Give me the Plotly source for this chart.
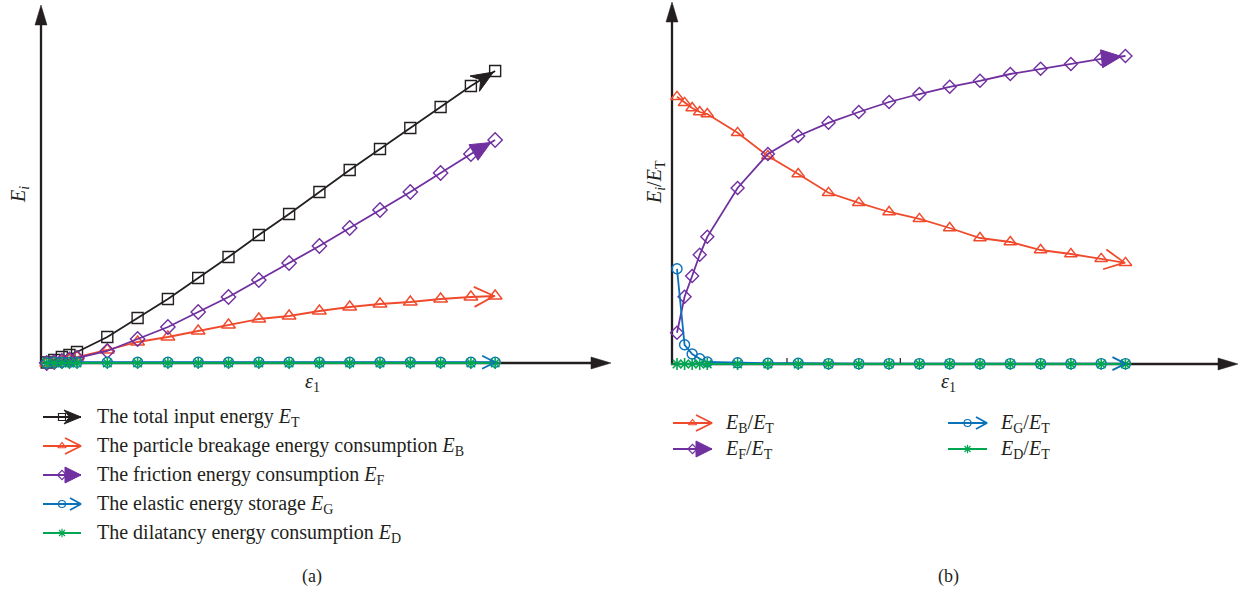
import math
import plotly.graph_objects as go

# ---------------- data ----------------
strain = [0, 0.25, 0.5, 0.75, 1, 2, 3, 4, 5, 6, 7, 8, 9, 10, 11, 12, 13, 14, 14.8]

# (a) energies (arbitrary units)
E_T = [0.05, 0.3, 0.6, 0.8, 1.1, 2.6, 4.5, 6.4, 8.5, 10.6, 12.8, 14.9, 17.1, 19.3, 21.4, 23.5, 25.6, 27.7, 29.2]
E_B = [0.0, 0.1, 0.25, 0.35, 0.6, 1.3, 2.1, 2.6, 3.2, 3.8, 4.4, 4.7, 5.2, 5.6, 5.9, 6.1, 6.4, 6.6, 6.7]
E_F = [0.0, 0.1, 0.2, 0.35, 0.5, 1.2, 2.4, 3.6, 5.1, 6.6, 8.3, 10.0, 11.7, 13.5, 15.3, 17.1, 19.0, 20.9, 22.3]
E_G = [0.02, 0.08, 0.08, 0.08, 0.08, 0.08, 0.08, 0.08, 0.08, 0.08, 0.08, 0.08, 0.08, 0.08, 0.08, 0.08, 0.08, 0.08, 0.08]
E_D = [0.0] * 19

# (b) energy ratios
R_B = [0.668, 0.653, 0.640, 0.630, 0.625, 0.578, 0.520, 0.475, 0.428, 0.403, 0.380, 0.363, 0.340, 0.315, 0.305, 0.285, 0.275, 0.263, 0.253]
R_F = [0.078, 0.168, 0.220, 0.273, 0.318, 0.440, 0.525, 0.570, 0.603, 0.630, 0.655, 0.675, 0.693, 0.708, 0.725, 0.738, 0.750, 0.763, 0.770]
R_G = [0.238, 0.048, 0.025, 0.013, 0.005, 0.003, 0.002, 0.002, 0.001, 0.001, 0.001, 0.001, 0.001, 0.001, 0.001, 0.001, 0.001, 0.001, 0.001]
R_D = [0.0] * 19

legend_a = [
    "The total input energy <i>E</i><sub>T</sub>",
    "The particle breakage energy consumption <i>E</i><sub>B</sub>",
    "The friction energy consumption <i>E</i><sub>F</sub>",
    "The elastic energy storage <i>E</i><sub>G</sub>",
    "The dilatancy energy consumption <i>E</i><sub>D</sub>",
]
legend_b = [
    "<i>E</i><sub>B</sub>/<i>E</i><sub>T</sub>",
    "<i>E</i><sub>F</sub>/<i>E</i><sub>T</sub>",
    "<i>E</i><sub>G</sub>/<i>E</i><sub>T</sub>",
    "<i>E</i><sub>D</sub>/<i>E</i><sub>T</sub>",
]

# ---------------- style / layout ----------------
W, H = 1240, 592
INK = "#231f20"
C_T = "#231f20"
C_B = "#f04a2c"
C_F = "#7030a0"
C_G = "#0b72b9"
C_D = "#00a651"
FONT = "Liberation Serif"

# axis lines in pixels (start, arrow tip)
LX = (41, 611)
LY = (363, 5)
RX = (672, 1238)
RY = (364, 2)

# data <-> pixel calibration
PX_PER_STRAIN = 30.3
L_ZERO = (46.7, 363.0)
R_ZERO = (677.0, 364.0)
L_PX_PER_UNIT = 10.0
R_PX_PER_UNIT = 400.0

# subplot domains (pixels), a bit larger than the drawn axes so arrowheads are not clipped
L_DOM_X = (28, 622)
L_DOM_Y = (378, 0)
R_DOM_X = (660, 1240)
R_DOM_Y = (378, 0)


def xr_from(dom, zero, s):
    return [(dom[0] - zero) / s, (dom[1] - zero) / s]


def yr_from(dom, zero, s):
    return [(zero - dom[0]) / s, (zero - dom[1]) / s]


l_xr = xr_from(L_DOM_X, L_ZERO[0], PX_PER_STRAIN)
l_yr = yr_from(L_DOM_Y, L_ZERO[1], L_PX_PER_UNIT)
r_xr = xr_from(R_DOM_X, R_ZERO[0], PX_PER_STRAIN)
r_yr = yr_from(R_DOM_Y, R_ZERO[1], R_PX_PER_UNIT)


def mapper(xr, yr, xpx, ypx):
    sx = (xpx[1] - xpx[0]) / (xr[1] - xr[0])
    sy = (ypx[1] - ypx[0]) / (yr[1] - yr[0])

    def to_px(x, y):
        return xpx[0] + (x - xr[0]) * sx, ypx[0] + (y - yr[0]) * sy

    def to_data(px, py):
        return xr[0] + (px - xpx[0]) / sx, yr[0] + (py - ypx[0]) / sy

    return to_px, to_data


def head_pts(kind, tip, u, L, hw):
    tx, ty = tip
    ux, uy = u
    nx, ny = -uy, ux
    bx, by = tx - L * ux, ty - L * uy
    p1 = (bx + hw * nx, by + hw * ny)
    p2 = (bx - hw * nx, by - hw * ny)
    if kind == "tri":
        return [tip, p1, p2, tip]
    if kind == "notch":
        nb = (tx - 0.68 * L * ux, ty - 0.68 * L * uy)
        return [tip, p1, nb, p2, tip]
    return [p1, tip, p2]  # open vee


def series_head(xs, ys, to_px, to_data, kind, L, hw, back=0.0):
    x1, y1 = to_px(xs[-1], ys[-1])
    x0, y0 = to_px(xs[-2], ys[-2])
    d = math.hypot(x1 - x0, y1 - y0)
    u = ((x1 - x0) / d, (y1 - y0) / d)
    tip = (x1 - back * u[0], y1 - back * u[1])
    pts = head_pts(kind, tip, u, L, hw)
    dd = [to_data(px, py) for px, py in pts]
    return [p[0] for p in dd], [p[1] for p in dd]


fig = go.Figure()

l_px, l_data = mapper(l_xr, l_yr, L_DOM_X, L_DOM_Y)
r_px, r_data = mapper(r_xr, r_yr, R_DOM_X, R_DOM_Y)

MK = dict(T="square-open", B="triangle-up-open", F="diamond-open", G="circle-open", D="asterisk-open")


def add_series(x, y, color, symbol, size, xa, ya, width=1.8, mlw=1.4):
    fig.add_trace(go.Scatter(
        x=x, y=y, mode="lines+markers", xaxis=xa, yaxis=ya, showlegend=False,
        line=dict(color=color, width=width),
        marker=dict(symbol=symbol, size=size, color=color, line=dict(color=color, width=mlw)),
        cliponaxis=False, hoverinfo="skip"))


def add_head(hx, hy, color, kind, xa, ya):
    if kind == "vee":
        fig.add_trace(go.Scatter(x=hx, y=hy, mode="lines", xaxis=xa, yaxis=ya, showlegend=False,
                                 line=dict(color=color, width=1.8), hoverinfo="skip", cliponaxis=False))
    else:
        fig.add_trace(go.Scatter(x=hx, y=hy, mode="lines", xaxis=xa, yaxis=ya, showlegend=False,
                                 fill="toself", fillcolor=color, line=dict(color=color, width=1),
                                 hoverinfo="skip", cliponaxis=False))


# ----- (a) -----
add_series(strain, E_T, C_T, MK["T"], 11, "x", "y")
add_series(strain, E_B, C_B, MK["B"], 12, "x", "y")
add_series(strain, E_F, C_F, MK["F"], 11, "x", "y")
add_series(strain, E_G, C_G, MK["G"], 10, "x", "y")
add_series(strain, E_D, C_D, MK["D"], 10, "x", "y", mlw=1.6)
add_head(*series_head(strain, E_T, l_px, l_data, "notch", 22, 9, 2), C_T, "notch", "x", "y")
add_head(*series_head(strain, E_B, l_px, l_data, "vee", 20, 10, 1), C_B, "vee", "x", "y")
add_head(*series_head(strain, E_F, l_px, l_data, "tri", 20, 9, 5), C_F, "tri", "x", "y")
add_head(*series_head(strain, E_G, l_px, l_data, "vee", 13, 6.5, 0), C_G, "vee", "x", "y")

# ----- (b) -----
add_series(strain, R_B, C_B, MK["B"], 11, "x2", "y2")
add_series(strain, R_F, C_F, MK["F"], 10, "x2", "y2")
add_series(strain, R_G, C_G, MK["G"], 10, "x2", "y2")
add_series(strain, R_D, C_D, MK["D"], 10, "x2", "y2", mlw=1.6)
add_head(*series_head(strain, R_B, r_px, r_data, "vee", 20, 10, 1), C_B, "vee", "x2", "y2")
add_head(*series_head(strain, R_F, r_px, r_data, "tri", 20, 9, 4), C_F, "tri", "x2", "y2")
add_head(*series_head(strain, R_G, r_px, r_data, "vee", 13, 6.5, 0), C_G, "vee", "x2", "y2")


# ----- legend glyphs (overlay pixel axis) -----
def legend_glyph(x0, x1, y, color, symbol, kind, L, hw):
    fig.add_trace(go.Scatter(x=[x0, x1], y=[y, y], mode="lines", xaxis="x3", yaxis="y3",
                             showlegend=False, line=dict(color=color, width=1.8), hoverinfo="skip"))
    fig.add_trace(go.Scatter(x=[(x0 + x1) / 2], y=[y], mode="markers", xaxis="x3", yaxis="y3",
                             showlegend=False, hoverinfo="skip",
                             marker=dict(symbol=symbol, size=7, color=color, line=dict(color=color, width=1.2))))
    if kind:
        pts = head_pts(kind, (x1, y), (1.0, 0.0), L, hw)
        add_head([p[0] for p in pts], [p[1] for p in pts], color, kind, "x3", "y3")


rows_a = [417, 446, 475, 504, 533]
glyphs_a = [(C_T, MK["T"], "notch", 17, 7), (C_B, MK["B"], "vee", 16, 8), (C_F, MK["F"], "tri", 16, 8),
            (C_G, MK["G"], "vee", 11, 6), (C_D, MK["D"], None, 0, 0)]
for yy, g in zip(rows_a, glyphs_a):
    legend_glyph(43, 81, yy, *g)

rows_b = [423, 449]
glyphs_b = [(673, 712, rows_b[0], C_B, MK["B"], "vee", 16, 8),
            (673, 712, rows_b[1], C_F, MK["F"], "tri", 16, 8),
            (948, 987, rows_b[0], C_G, MK["G"], "vee", 11, 6),
            (948, 987, rows_b[1], C_D, MK["D"], None, 0, 0)]
for g in glyphs_b:
    legend_glyph(*g)

# ----- annotations -----
ann = []


def txt(x, y, s, size=20, xanchor="left", angle=0):
    ann.append(dict(x=x, y=y, xref="x3", yref="y3", text=s, showarrow=False, xanchor=xanchor,
                    yanchor="middle", textangle=angle, font=dict(family=FONT, size=size, color=INK)))


for yy, s in zip(rows_a, legend_a):
    txt(95, yy, s)
txt(723, rows_b[0], legend_b[0])
txt(723, rows_b[1], legend_b[1])
txt(998, rows_b[0], legend_b[2])
txt(998, rows_b[1], legend_b[3])

txt(19, 195, "<i>E</i><sub><i>i</i></sub>", size=20, xanchor="center", angle=-90)
txt(655, 182, "<i>E</i><sub><i>i</i></sub>/<i>E</i><sub>T</sub>", size=20, xanchor="center", angle=-90)
txt(312, 382, "<i>ε</i><sub>1</sub>", size=20, xanchor="center")
txt(948, 382, "<i>ε</i><sub>1</sub>", size=20, xanchor="center")
txt(312, 576, "(a)", size=18, xanchor="center")
txt(948, 576, "(b)", size=18, xanchor="center")


# ----- axis lines & arrowheads (paper shapes, below traces) -----
def px2paper(px, py):
    return px / W, 1 - py / H


shapes = []


def axis_arrow(x0, y0, x1, y1, L=20, hw=6):
    d = math.hypot(x1 - x0, y1 - y0)
    u = ((x1 - x0) / d, (y1 - y0) / d)
    bx, by = x1 - (L - 2) * u[0], y1 - (L - 2) * u[1]
    a, b = px2paper(x0, y0)
    c, e = px2paper(bx, by)
    shapes.append(dict(type="line", xref="paper", yref="paper", x0=a, y0=b, x1=c, y1=e,
                       line=dict(color=INK, width=2.3), layer="below"))
    pts = head_pts("tri", (x1, y1), u, L, hw)
    pp = [px2paper(*p) for p in pts]
    path = "M" + " L".join(f"{p[0]:.5f},{p[1]:.5f}" for p in pp) + " Z"
    shapes.append(dict(type="path", xref="paper", yref="paper", path=path,
                       fillcolor=INK, line=dict(color=INK, width=0.5), layer="below"))


axis_arrow(LX[0], LY[0] + 1, LX[0], LY[1])
axis_arrow(LX[0] - 1, LY[0], LX[1], LY[0])
axis_arrow(RX[0], RY[0] + 1, RX[0], RY[1])
axis_arrow(RX[0] - 1, RY[0], RX[1], RY[0])

hidden = dict(visible=False, fixedrange=True)
fig.update_layout(
    width=W, height=H,
    margin=dict(l=0, r=0, t=0, b=0),
    paper_bgcolor="white", plot_bgcolor="rgba(0,0,0,0)",
    showlegend=False,
    xaxis=dict(domain=[L_DOM_X[0] / W, L_DOM_X[1] / W], range=l_xr, anchor="y", **hidden),
    yaxis=dict(domain=[1 - L_DOM_Y[0] / H, 1 - L_DOM_Y[1] / H], range=l_yr, anchor="x", **hidden),
    xaxis2=dict(domain=[R_DOM_X[0] / W, R_DOM_X[1] / W], range=r_xr, anchor="y2", fixedrange=True,
                showgrid=False, zeroline=False, showline=False, showticklabels=False),
    yaxis2=dict(domain=[1 - R_DOM_Y[0] / H, 1 - R_DOM_Y[1] / H], range=r_yr, anchor="x2", **hidden),
    xaxis3=dict(domain=[0, 1], range=[0, W], anchor="y3", **hidden),
    yaxis3=dict(domain=[0, 1], range=[H, 0], anchor="x3", **hidden),
    annotations=ann,
    shapes=shapes,
    font=dict(family=FONT, color=INK),
)

# two small stray tick marks on the (b) strain axis
for tv in [3.63, 7.37]:
    x_px, _ = r_px(tv, 0)
    a, b = px2paper(x_px, RY[0] - 6)
    c, e = px2paper(x_px, RY[0])
    fig.add_shape(type="line", xref="paper", yref="paper", x0=a, y0=b, x1=c, y1=e,
                  line=dict(color=INK, width=1.2), layer="below")

fig.write_html("out.html")
